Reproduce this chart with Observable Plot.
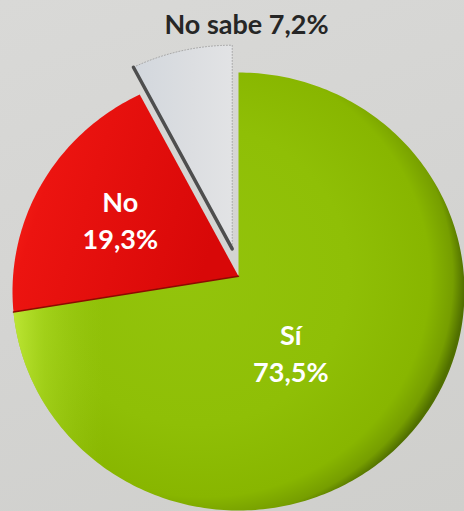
<!DOCTYPE html>
<html><head><meta charset="utf-8">
<script src="https://cdn.jsdelivr.net/npm/d3@7"></script>
<script src="https://cdn.jsdelivr.net/npm/@observablehq/plot@0.6"></script>
<style>
html,body{margin:0;padding:0;}
body{background:linear-gradient(160deg,#d9d9d7 0%,#d4d4d2 50%,#cfcfcc 100%);width:464px;height:511px;overflow:hidden;}
</style>
</head><body><div id="chart"></div>
<script>
// ---- data ----
const categories = ["Sí", "No", "No sabe"];
const values = [73.5, 19.3, 7.2];
const labels = ["Sí\n73,5%", "No\n19,3%", "No sabe 7,2%"];

// ---- layout / style ----
const W = 464, H = 511, CX = 238, CY = 291, RX = 226, RY = 219;
const APEX_V = 0.07;            // perspective: apex sits a little above centre
const EXPLODE = [0, 0, 28];     // px, per slice
const fills = ["url(#gGreen)", "url(#gRed)", "url(#gGray)"];
const labelPolar = [{a: 140, r: 0.36}, {a: 302.5, r: 0.62}, {a: 1.65, r: 1.229}];
const labelColor = ["#ffffff", "#ffffff", "#262626"];

const total = d3.sum(values);
let acc = 0;
const slices = values.map((v, i) => {
  const a0 = acc / total * 2 * Math.PI; acc += v;
  const a1 = acc / total * 2 * Math.PI;
  return {i, cat: categories[i], a0, a1, mid: (a0 + a1) / 2};
});
function offset(s) {
  return {ox: Math.sin(s.mid) * EXPLODE[s.i] / RX, oy: Math.cos(s.mid) * EXPLODE[s.i] / RY};
}
function slicePoints(s) {
  const {ox, oy} = offset(s);
  const pts = [{x: ox, y: APEX_V + oy}];
  const n = Math.max(8, Math.ceil((s.a1 - s.a0) / (Math.PI / 180)));
  for (let k = 0; k <= n; k++) {
    const a = s.a0 + (s.a1 - s.a0) * k / n;
    pts.push({x: Math.sin(a) + ox, y: Math.cos(a) + oy});
  }
  pts.push({x: ox, y: APEX_V + oy});
  return pts;
}
function edge(s, a) {
  const {ox, oy} = offset(s);
  return [{x: ox, y: APEX_V + oy}, {x: Math.sin(a) + ox, y: Math.cos(a) + oy}];
}
const labelData = slices.map(s => ({
  x: Math.sin(labelPolar[s.i].a * Math.PI / 180) * labelPolar[s.i].r,
  y: Math.cos(labelPolar[s.i].a * Math.PI / 180) * labelPolar[s.i].r,
  text: labels[s.i], fill: labelColor[s.i]
}));

const marks = [];
slices.forEach(s => {
  marks.push(Plot.line(slicePoints(s), {x: "x", y: "y", fill: fills[s.i], stroke: "none"}));
});
// left-side highlight on green
marks.push(Plot.line(slicePoints(slices[0]), {x: "x", y: "y", fill: "url(#gGreenHi)", stroke: "none"}));
// dotted outline of exploded slice
marks.push(Plot.line(slicePoints(slices[2]), {x: "x", y: "y", stroke: "#a8a8a8", strokeWidth: 1, strokeDasharray: "1,2"}));
// dark side face of the exploded slice
marks.push(Plot.line(edge(slices[2], slices[2].a0), {x: "x", y: "y", stroke: "#4e4e4e", strokeWidth: 3.5}));
// dark seam between red and green
marks.push(Plot.line(edge(slices[1], slices[1].a0), {x: "x", y: "y", stroke: "#8c0a00", strokeWidth: 1.5}));
marks.push(Plot.text(labelData, {
  x: "x", y: "y", text: "text", fill: d => d.fill,
  fontSize: 27, fontWeight: "bold", fontFamily: "Lato", lineHeight: 1.38
}));

const chart = Plot.plot({
  width: W, height: H, margin: 0,
  x: {domain: [-CX / RX, (W - CX) / RX], range: [0, W], axis: null},
  y: {domain: [-(H - CY) / RY, CY / RY], range: [H, 0], axis: null},
  style: {background: "transparent", overflow: "visible"},
  marks
});
d3.select(chart).insert("defs", ":first-child").html(`
  <radialGradient id="gGreen" cx="0.43" cy="0.47" r="0.57" fx="0.36" fy="0.45">
    <stop offset="0" stop-color="#93c40c"/>
    <stop offset="0.6" stop-color="#8fbf06"/>
    <stop offset="0.88" stop-color="#88b600"/>
    <stop offset="0.96" stop-color="#769e00"/>
    <stop offset="1" stop-color="#506f00"/>
  </radialGradient>
  <linearGradient id="gGreenHi" x1="0" y1="0" x2="1" y2="0">
    <stop offset="0" stop-color="#c8f040" stop-opacity="0.8"/>
    <stop offset="0.07" stop-color="#b8e630" stop-opacity="0.45"/>
    <stop offset="0.2" stop-color="#a0d020" stop-opacity="0"/>
  </linearGradient>
  <linearGradient id="gRed" x1="0" y1="0" x2="1" y2="0.3">
    <stop offset="0" stop-color="#ff2a1c"/>
    <stop offset="0.25" stop-color="#ec1410"/>
    <stop offset="1" stop-color="#d80808"/>
  </linearGradient>
  <linearGradient id="gGray" x1="0" y1="0" x2="1" y2="0">
    <stop offset="0" stop-color="#d2d7dd"/>
    <stop offset="0.6" stop-color="#dcdee1"/>
    <stop offset="1" stop-color="#e2e3e5"/>
  </linearGradient>`);
document.getElementById("chart").appendChild(chart);
</script>
</body></html>
